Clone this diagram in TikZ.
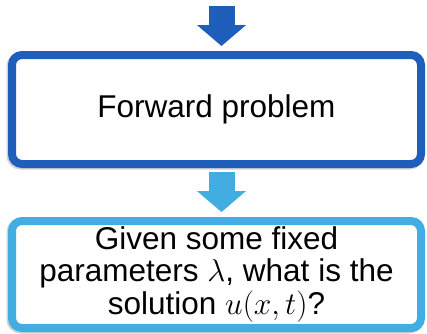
\documentclass[tikz,border=0pt]{standalone}
\usepackage{fix-cm}
\usepackage{fontspec}
\setmainfont{Liberation Sans}
\usetikzlibrary{arrows.meta, positioning}
\definecolor{darkblue}{RGB}{31,94,186}
\definecolor{lightblue}{RGB}{66,173,224}
\tikzset{
    stagebox/.style={draw, rectangle, rounded corners=10pt, line width=8pt, fill=white, minimum width=409pt, inner sep=0pt, align=center, font=\fontsize{31.5}{32.5}\selectfont,
        preaction={draw=black!18, line width=8pt, transform canvas={xshift=-1.5pt, yshift=-1.5pt}}},
    blockarrow/.style={line width=26pt, -{Triangle[width=48pt, length=21pt]}}
}

\begin{document}
\begin{tikzpicture}[x=1pt, y=1pt]
    \useasboundingbox[fill=white] (0,0) rectangle (427,333);

    % -----------------------------------------------------------------
    % RIQUADRI
    % -----------------------------------------------------------------
    \node[stagebox, draw=darkblue, minimum height=109pt] (fwd) at (216.5,223.5) {Forward problem};
    \node[stagebox, draw=lightblue, minimum height=107pt, below=49pt of fwd] (inv) {Given some fixed\\parameters $\lambda$, what is the\\solution $u(x,t)$?};

    % -----------------------------------------------------------------
    % FRECCE
    % -----------------------------------------------------------------
    \coordinate (feed) at (221.5,327);
    \draw[blockarrow, darkblue, shorten >=5pt] (feed) -- (feed |- fwd.north);
    \draw[blockarrow, lightblue, shorten <=4pt, shorten >=5pt] (fwd.south -| feed) -- (inv.north -| feed);

\end{tikzpicture}
\end{document}
